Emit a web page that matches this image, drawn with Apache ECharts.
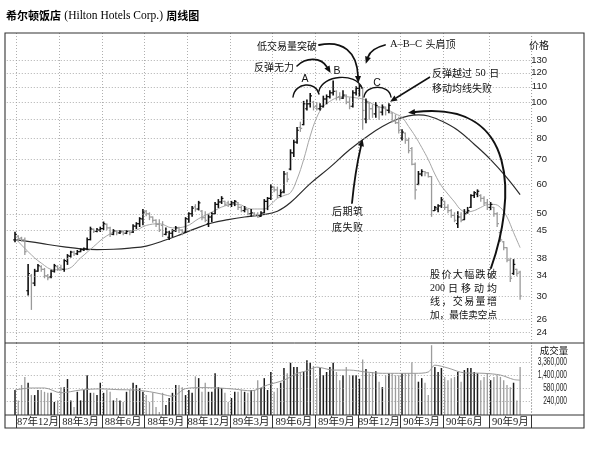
<!DOCTYPE html>
<html lang="zh">
<head>
<meta charset="utf-8">
<title>希尔顿饭店 周线图</title>
<script src="https://cdn.jsdelivr.net/npm/echarts@6.0.0/dist/echarts.min.js"></script>
<style>
html,body{margin:0;padding:0;background:#fff;}
#chart{width:603px;height:453px;}
</style>
</head>
<body>
<div id="chart"></div>
<script>
// ================= DATA =================
const firstWeek = [1987, 10, 27]; // week ending 1987-11-27 (UTC y, m0, d)
const quarterLabels = ['87年12月','88年3月','88年6月','88年9月','88年12月','89年3月','89年6月','89年9月','89年12月','90年3月','90年6月','90年9月'];
const quarterStartWeeks = [1,14,27,40,53,66,79,92,105,118,131,145];
const priceTicks = [130,120,110,100,90,80,70,60,50,45,38,34,30,26,24];
const volumeTicks = [3360000,1400000,580000,240000];
const volumeTickLabels = ['3,360,000','1,400,000','580,000','240,000'];

const opens = [
 42.5,43.5,43,42.5,31,34,32.5,35,36,35.4,
 34,33.8,35,36,35.8,35.4,37.2,38.4,39.4,39,
 39.5,40,40.2,42.6,45.4,44.8,45.2,45.6,46.8,45.8,
 44,45,44.4,44.7,44.3,44.8,44.6,46.3,47,48.4,
 50.8,50,49,48,46.8,46.5,44,43.2,44.3,45,
 45.8,45.2,44.6,48.4,50,52.2,51.5,50.8,48.8,47,
 49,50,53,53.8,54,53.5,53,53.5,53.6,52,
 51,51.3,50,50.2,49.8,49.2,50.3,54,55,59,
 58,56,57.3,64,66,73,78,85.5,87,96,
 99,100,97.5,96,97.5,102,103.5,106,107,103.5,
 102.5,104.5,100,97.5,106,109,109,90,99.5,96,
 93,97,94,97,95,93.5,89,88,80,82.5,
 79,75,68,60,64,65,64.5,63,51,51.5,
 52.5,54,52,51,49.5,47,49,48.2,50.3,52,
 56,56.5,56,55,53.5,52,52,50,44.5,42,
 40.5,37.5,34.5,35.4,34.8
];
const highs = [
 44.6,43.6,43.2,43,36.5,34.3,35.4,36.5,36.2,35.6,
 34.3,35.2,36.5,36.2,36.3,37.6,38.8,39.6,39.6,39.8,
 40.2,40.4,43,46,45.5,45.6,46,47.5,46.9,46,
 45.3,45,45,44.8,45,45,46.7,47.3,48.8,51.3,
 51,50.3,49,48.2,48.2,47.6,45.8,44.8,45.3,46.2,
 46,45.3,48.8,50.3,52.3,52.9,54,51,50.6,49.7,
 50.3,53.6,54.6,55.6,54,54,54,54.3,53.6,52.3,
 52.3,51.3,51.3,50.3,50.3,50.6,54.6,55.3,59.9,59,
 59,58,65,64.6,74.4,79,85.5,88.3,100.5,101.4,
 105.6,100.5,99.8,99,103.8,104.6,107.3,114,107.3,106,
 107.3,104.6,102.7,107.3,110,111.3,109.5,102,99.8,98.3,
 99.8,97,98.3,97,99,93.7,92.4,91,84.2,82.6,
 80,75.5,68.5,65,65.7,65,64.5,63,52.3,52.9,
 55.3,54,52.9,51.3,50.3,50.6,50.3,51.3,52,56.3,
 57.3,58,56.3,55.6,54.6,53.6,52,50.3,44.7,42.1,
 40.5,37.9,37.6,35.4,35
];
const lows = [
 42,42.2,42.2,38.8,30.2,27.6,32,35,35,33.6,
 33.2,33.6,34.8,35.2,35.2,35,36.5,38.2,38.6,38.8,
 39.5,39.8,40,42.5,44.5,44.7,44.8,45.3,45.3,43.4,
 43.9,43.9,44.2,43.9,44.2,43.9,44.5,45.6,46.2,46.7,
 49.4,48.2,47.4,46.2,44.8,43.4,43.9,42.6,43.4,44.8,
 44.5,43.9,44.5,47.4,49.2,50.8,51.2,48.2,47.6,46.2,
 47.6,50,52,53.3,52.6,52.3,52.3,52.6,51.3,50.6,
 50.6,49.7,49.2,49.2,48.9,49.2,50.3,51.3,54.6,57.3,
 55.3,55.6,57,61,65.7,71.4,77.5,83.4,86.9,95.3,
 97,95.3,95.3,95.3,97,99,102.7,104.6,101.4,101.4,
 102.3,99,96,97,104.6,104,84.5,88,90,91,
 91,90,92.4,92.4,93.7,88.4,87.6,82.6,79.1,77.5,
 73,67.8,54.8,59.9,63.3,63.3,62.8,49.2,51,50.6,
 52,51.3,50.3,48.9,47.6,45.9,47.6,48.2,50.2,52,
 55.3,55.6,54,52.9,51.3,51.3,49.2,46.2,42.1,40,
 37.1,32.8,34.3,34,29.4
];
const closes = [
 44,42.8,42.5,39.5,34.5,32.5,35,36.2,35.4,34,
 33.6,35,36.2,35.5,35.5,37.4,38.5,39.4,39,39.5,
 40,40.2,42.6,45.5,44.8,45.2,45.6,47,45.8,44,
 45,44.4,44.7,44.3,44.8,44.5,46.3,47,48.5,50.5,
 50,49,48,46.8,45.2,44,44.6,44.3,45,45.8,
 45.2,44.5,48.5,50,51.8,51.5,53.5,48.8,48,49,
 50,53,53.8,55,53,53,53.5,54,52,51,
 51.5,50,50.3,49.5,49,50.2,54,55,59,58,
 56,57,64,62,73,78,84,85,99,99,
 104,97,96,97.5,102,103.5,106,107,103,102.5,
 104.5,100,97.5,106,109,110.5,95,100,96,93,
 98,94,97,95,98,89,88,84,83,79,
 74,68,58,64,65,64.5,63,51,52,52.5,
 54.5,52,51,49.5,48,49,48,50,51,56,
 57,57.5,55,53.5,52,53,50,47,42.5,40.5,
 37.5,33.5,36.5,34.5,30
];
const volumes = [
 510000,250000,720000,1250000,840000,360000,360000,510000,510000,450000,
 420000,420000,225000,250000,620000,620000,1080000,250000,160000,450000,
 250000,510000,1400000,420000,420000,360000,840000,420000,510000,450000,
 250000,295000,250000,225000,450000,510000,840000,720000,585000,450000,
 360000,225000,420000,160000,113000,420000,182000,295000,420000,720000,
 720000,620000,360000,510000,420000,1300000,1150000,450000,840000,450000,
 450000,1600000,620000,585000,420000,225000,295000,450000,450000,510000,
 450000,420000,510000,510000,1000000,585000,1150000,510000,1750000,450000,
 585000,840000,2300000,1600000,3300000,2450000,2450000,1750000,1750000,3900000,
 3300000,2650000,1150000,2300000,1400000,1750000,2450000,3300000,1750000,1000000,
 1400000,2450000,1400000,1400000,1400000,1100000,4100000,2150000,1600000,1750000,
 1850000,900000,620000,1400000,1600000,1600000,1400000,1400000,1600000,1600000,
 1600000,3400000,1600000,900000,1150000,840000,360000,11000000,2450000,1750000,
 2300000,1250000,1000000,1150000,1250000,1750000,900000,2000000,2300000,2300000,
 1750000,1600000,1000000,1250000,1600000,1000000,1250000,1400000,1250000,1000000,
 720000,620000,840000,250000,2450000
];
// moving averages as [weekIndex, value] points
const ma10 = [
 [0,43],[4,39.5],[8,36.8],[12,35.3],[16,35.5],[20,38],[24,40.8],[28,43.6],[32,45],[36,45],
 [40,46.5],[44,47],[48,45.8],[52,46.2],[56,48.5],[60,50.5],[64,52.5],[68,53],[72,51.5],[76,51.5],
 [78,53],[80,55],[82,56],[84,57],[86,62],[88,70],[90,81],[92,91],[94,97.5],[96,100.5],
 [98,102.7],[100,103.5],[102,103.3],[104,102.7],[106,102],[108,100],[110,98],[112,96.5],[114,95],[116,93],
 [118,91],[120,86],[122,81],[124,75.5],[126,70],[128,64],[130,59.5],[132,56.5],[134,53.8],[136,51.2],
 [138,50.6],[140,51],[142,52],[144,52.9],[146,53],[148,52],[150,49],[152,44.5],[154,40.5]
];
const ma40 = [
 [0,42.6],[5,42],[10,41.3],[15,40.7],[20,40.2],[25,40],[30,40.1],[35,40.4],[40,40.9],[45,42.2],
 [50,43.8],[55,45.6],[60,47.2],[65,48.2],[70,49],[75,49.6],[80,50.8],[84,53.6],[90,60.3],[96,66.7],
 [102,74.4],[108,81.6],[112,86],[116,89.5],[120,91.8],[123,92.4],[126,91.8],[130,89],[135,84],[140,77],
 [145,70],[150,62.5],[154,56.3]
];
const volMa = [
 [0,512000],[5,585000],[9,585000],[14,420000],[20,510000],[26,550000],[32,520000],[36,512000],[41,455000],[45,380000],
 [48,330000],[52,560000],[57,600000],[62,585000],[67,540000],[72,480000],[77,720000],[82,1000000],[86,1600000],[89,1900000],
 [92,2450000],[97,2000000],[102,2000000],[107,1750000],[112,1600000],[117,1600000],[122,1600000],[126,1750000],[128,2800000],[132,2300000],
 [137,1650000],[143,1600000],[148,1420000],[152,1050000],[154,1000000]
];

// ================= LAYOUT =================
const N = closes.length;
[opens, highs, lows, volumes].forEach(function (a, k) {
  if (a.length !== N) throw new Error('array length mismatch ' + k + ': ' + a.length + ' vs ' + N);
});
const LEAD = 2, TRAIL = 3;
const PLOT_LEFT = 6.8, PLOT_W = 524.8;
const PRICE_TOP = 33, PRICE_H = 310, VOL_TOP = 343, VOL_H = 72;
const PRICE_MIN = 22.4, PRICE_MAX = 153.7, VOL_MIN = 91800, VOL_MAX = 12800000;
const CJK = "'Noto Sans CJK SC', sans-serif";
const SERIF = "'Liberation Serif', 'Noto Sans CJK SC', serif";
const GRID_LINE = { color: '#9a9a9a', type: [1, 2], width: 0.8 };

const nCat = LEAD + N + TRAIL;
const cats = [];
for (let k = 0; k < nCat; k++) {
  const w = k - LEAD;
  if (w < 0 || w >= N) { cats.push(''); continue; }
  const t = Date.UTC(firstWeek[0], firstWeek[1], firstWeek[2]) + w * 7 * 864e5;
  cats.push(new Date(t).toISOString().slice(0, 10));
}
const qSet = new Set(quarterStartWeeks.map(w => w + LEAD));
const labelMap = new Map(quarterStartWeeks.map((w, i) => [w + LEAD + 6, quarterLabels[i]]));

const ohlcData = closes.map((c, i) => [i + LEAD, opens[i], highs[i], lows[i], c]);
const volData = volumes.map((v, i) => [i + LEAD, v, closes[i] >= opens[i] ? 1 : 0]);
const shift = arr => arr.map(p => [p[0] + LEAD, p[1]]);

function renderOHLC(params, api) {
  const x = api.value(0);
  const o = api.value(1), h = api.value(2), l = api.value(3), c = api.value(4);
  const pH = api.coord([x, h]), pL = api.coord([x, l]);
  const pO = api.coord([x, o]), pC = api.coord([x, c]);
  const up = c >= o;
  const color = up ? '#111' : '#9a9a9a';
  const t = 1.8;
  return {
    type: 'group',
    children: [
      { type: 'line', shape: { x1: pH[0], y1: pH[1] - 0.5, x2: pL[0], y2: pL[1] + 0.5 }, style: { stroke: color, lineWidth: up ? 1.6 : 1.3 } },
      { type: 'line', shape: { x1: pO[0] - t, y1: pO[1], x2: pO[0], y2: pO[1] }, style: { stroke: color, lineWidth: 1.2 } },
      { type: 'line', shape: { x1: pC[0], y1: pC[1], x2: pC[0] + t, y2: pC[1] }, style: { stroke: color, lineWidth: 1.2 } }
    ]
  };
}
function renderVol(params, api) {
  const x = api.value(0), v = api.value(1), up = api.value(2);
  const top = api.coord([x, v]);
  const base = api.coord([x, VOL_MIN]);
  return {
    type: 'line',
    shape: { x1: top[0], y1: top[1], x2: base[0], y2: base[1] },
    style: { stroke: up ? '#1a1a1a' : '#9c9c9c', lineWidth: up ? 1.5 : 1.3 }
  };
}

const chart = echarts.init(document.getElementById('chart'), null, { renderer: 'canvas', width: 603, height: 453 });

const hiddenY = {
  axisLine: { show: false }, axisTick: { show: false }, axisLabel: { show: false }, splitLine: { show: false }
};

chart.setOption({
  animation: false,
  backgroundColor: '#fff',
  grid: [
    { left: PLOT_LEFT, top: PRICE_TOP, width: PLOT_W, height: PRICE_H },
    { left: PLOT_LEFT, top: VOL_TOP, width: PLOT_W, height: VOL_H }
  ],
  xAxis: [
    {
      type: 'category', gridIndex: 0, data: cats, boundaryGap: true,
      axisLine: { show: false }, axisTick: { show: false }, axisLabel: { show: false },
      splitLine: { show: true, interval: (i) => qSet.has(i), lineStyle: GRID_LINE }
    },
    {
      type: 'category', gridIndex: 1, data: cats, boundaryGap: true,
      axisLine: { show: false },
      axisTick: { show: true, length: 13, interval: (i) => qSet.has(i), lineStyle: { color: '#333', width: 1 } },
      axisLabel: {
        show: true, interval: (i) => labelMap.has(i), formatter: (v, i) => labelMap.get(i) || '',
        margin: 2, fontSize: 10.5, color: '#222', fontFamily: SERIF, hideOverlap: false
      },
      splitLine: { show: true, interval: (i) => qSet.has(i), lineStyle: GRID_LINE }
    }
  ],
  yAxis: [
    Object.assign({ type: 'log', logBase: 10, gridIndex: 0, min: PRICE_MIN, max: PRICE_MAX, position: 'right' }, hiddenY),
    Object.assign({ type: 'log', logBase: 10, gridIndex: 1, min: VOL_MIN, max: VOL_MAX, position: 'right' }, hiddenY)
  ],
  series: [
    {
      name: 'price-grid', type: 'line', xAxisIndex: 0, yAxisIndex: 0, z: 1, silent: true,
      data: [[LEAD, 50]], showSymbol: false, symbol: 'none', lineStyle: { opacity: 0 },
      markLine: {
        silent: true, symbol: ['none', 'none'], label: { show: false }, animation: false,
        lineStyle: GRID_LINE, emphasis: { disabled: true },
        data: priceTicks.map(v => ({ yAxis: v }))
      }
    },
    {
      name: 'volume-grid', type: 'line', xAxisIndex: 1, yAxisIndex: 1, z: 1, silent: true,
      data: [[LEAD, 500000]], showSymbol: false, symbol: 'none', lineStyle: { opacity: 0 },
      markLine: {
        silent: true, symbol: ['none', 'none'], label: { show: false }, animation: false,
        lineStyle: GRID_LINE, emphasis: { disabled: true },
        data: volumeTicks.map(v => ({ yAxis: v }))
      }
    },
    {
      name: '40周均线', type: 'line', xAxisIndex: 0, yAxisIndex: 0, z: 2, silent: true,
      data: shift(ma40), smooth: 0.4, showSymbol: false, symbol: 'none',
      lineStyle: { color: '#2b2b2b', width: 1.2 }
    },
    {
      name: '10周均线', type: 'line', xAxisIndex: 0, yAxisIndex: 0, z: 2, silent: true,
      data: shift(ma10), smooth: 0.4, showSymbol: false, symbol: 'none',
      lineStyle: { color: '#a6a6a6', width: 1 }
    },
    {
      name: '价格', type: 'custom', xAxisIndex: 0, yAxisIndex: 0, z: 3, silent: true,
      renderItem: renderOHLC, encode: { x: 0, y: [1, 2, 3, 4] }, data: ohlcData
    },
    {
      name: '成交量', type: 'custom', xAxisIndex: 1, yAxisIndex: 1, z: 3, silent: true,
      renderItem: renderVol, encode: { x: 0, y: 1 }, data: volData
    },
    {
      name: '成交量均线', type: 'line', xAxisIndex: 1, yAxisIndex: 1, z: 4, silent: true,
      data: shift(volMa), smooth: 0.3, showSymbol: false, symbol: 'none',
      lineStyle: { color: '#9a9a9a', width: 1 }
    }
  ]
});

// ================= GRAPHIC OVERLAY (frame, labels, annotations) =================
function txt(x, y, text, opt, extra) {
  const st = Object.assign({
    text: text, x: 0, y: 0, fill: '#111', fontSize: 10, fontFamily: CJK,
    align: 'left', verticalAlign: 'middle', textAlign: 'left', textVerticalAlign: 'middle'
  }, opt || {});
  if (st.align) st.textAlign = st.align;
  return Object.assign({ type: 'text', x: x, y: y, silent: true, z: 50, style: st }, extra || {});
}
function line(x1, y1, x2, y2, stroke, w, dash) {
  return { type: 'line', silent: true, z: 40, shape: { x1, y1, x2, y2 }, style: { stroke: stroke, lineWidth: w, lineDash: dash || null } };
}
// c = [x1,y1,cpx1,cpy1,cpx2,cpy2,x2,y2] (cubic) or [x1,y1,cpx1,cpy1,x2,y2] (quadratic)
function curve(c, w) {
  const shape = c.length === 8
    ? { x1: c[0], y1: c[1], cpx1: c[2], cpy1: c[3], cpx2: c[4], cpy2: c[5], x2: c[6], y2: c[7] }
    : { x1: c[0], y1: c[1], cpx1: c[2], cpy1: c[3], x2: c[4], y2: c[5] };
  return { type: 'bezierCurve', silent: true, z: 45, shape: shape, style: { fill: null, stroke: '#111', lineWidth: w, lineCap: 'round' } };
}
function head(endX, endY, fromX, fromY) {
  const dx = endX - fromX, dy = endY - fromY, len = Math.hypot(dx, dy) || 1;
  const ux = dx / len, uy = dy / len;
  const L = 7, H = 3;
  const tip = [endX + ux * L, endY + uy * L];
  const px = -uy * H, py = ux * H;
  return { type: 'polygon', silent: true, z: 46, shape: { points: [tip, [endX + px, endY + py], [endX - px, endY - py]] }, style: { fill: '#111' } };
}
function arrowCurve(c, w) {
  const n = c.length;
  return [curve(c, w), head(c[n - 2], c[n - 1], c[n - 4], c[n - 3])];
}
function justify(tokens, x0, x1, y, size) {
  const widths = tokens.map(t => (/^[0-9]+$/.test(t) ? t.length * size * 0.5 : size));
  const total = widths.reduce((a, b) => a + b, 0);
  const gap = tokens.length > 1 ? (x1 - x0 - total) / (tokens.length - 1) : 0;
  const out = [];
  let x = x0;
  tokens.forEach((t, i) => {
    out.push(txt(x, y, t, { fontSize: size, fontFamily: /^[0-9]+$/.test(t) ? SERIF : CJK }));
    x += widths[i] + gap;
  });
  return out;
}

const g = [];
// frame and panel separators
g.push({ type: 'rect', silent: true, z: 40, shape: { x: 5, y: 33, width: 579, height: 395 }, style: { fill: null, stroke: '#333', lineWidth: 1.1 } });
g.push(line(5, 343, 584, 343, '#333', 1));
g.push(line(5, 415, 584, 415, '#333', 1));
g.push(line(PLOT_LEFT + PLOT_W, 33, PLOT_LEFT + PLOT_W, 415, '#9a9a9a', 0.8, [1, 2]));

// title
g.push({
  type: 'text', x: 6, y: 16, silent: true, z: 50,
  style: {
    text: '{b|希尔顿饭店} {r|(Hilton Hotels Corp.)} {b|周线图}',
    x: 0, y: 0, verticalAlign: 'middle', textVerticalAlign: 'middle',
    rich: {
      b: { fontFamily: CJK, fontWeight: 'bold', fontSize: 11, fill: '#000' },
      r: { fontFamily: SERIF, fontSize: 11.5, fill: '#000' }
    }
  }
});

// price axis labels (positions from the library's log scale)
g.push(txt(539, 45, '价格', { align: 'center', fontSize: 10 }));
priceTicks.forEach(v => {
  const y = chart.convertToPixel({ yAxisIndex: 0 }, v);
  g.push(txt(547, y, String(v), { align: 'right', fontSize: 9.5, fontFamily: "'Liberation Sans', Arial, sans-serif", fill: '#222' }));
});
// volume axis labels (narrow lettering, as in the reference)
g.push(txt(554, 350, '成交量', { align: 'center', fontSize: 9.5 }));
volumeTicks.forEach((v, i) => {
  const y = chart.convertToPixel({ yAxisIndex: 1 }, v);
  g.push(txt(567, y, volumeTickLabels[i], { align: 'right', fontSize: 10, fontFamily: "'Liberation Sans', Arial, sans-serif", fill: '#222' }, { scaleX: 0.66 }));
});

// annotations
g.push(txt(257, 46, '低交易量突破'));
g.push(...arrowCurve([319, 45, 343, 40, 357, 52, 358, 76], 1.8));
g.push(txt(254, 67, '反弹无力'));
g.push(...arrowCurve([297, 66, 306, 57, 321, 57, 327, 67], 1.6));
g.push(txt(305, 79, 'A', { align: 'center', fontFamily: "'Liberation Sans', sans-serif", fontSize: 10.5 }));
g.push(txt(337, 71, 'B', { align: 'center', fontFamily: "'Liberation Sans', sans-serif", fontSize: 10.5 }));
g.push(txt(377, 83, 'C', { align: 'center', fontFamily: "'Liberation Sans', sans-serif", fontSize: 10.5 }));
g.push(curve([293, 97, 295, 82, 316, 81, 319, 94], 1.4));
g.push(curve([319, 91, 322, 75, 356, 72, 362, 88], 1.4));
g.push(curve([364, 97, 366, 84, 389, 84, 391, 97], 1.4));
g.push({
  type: 'text', x: 390, y: 44, silent: true, z: 50,
  style: {
    text: '{s|A–B–C} {c|头肩顶}', x: 0, y: 0, verticalAlign: 'middle', textVerticalAlign: 'middle',
    rich: { s: { fontFamily: SERIF, fontSize: 10.5, fill: '#111' }, c: { fontFamily: CJK, fontSize: 10, fill: '#111' } }
  }
});
g.push(...arrowCurve([385, 45, 377, 47, 370, 51, 368, 57], 1.8));
g.push({
  type: 'text', x: 432, y: 73, silent: true, z: 50,
  style: {
    text: '{c|反弹越过} {s|50} {c|日}', x: 0, y: 0, verticalAlign: 'middle', textVerticalAlign: 'middle',
    rich: { s: { fontFamily: SERIF, fontSize: 10.5, fill: '#111' }, c: { fontFamily: CJK, fontSize: 10, fill: '#111' } }
  }
});
g.push(txt(432, 88, '移动均线失败'));
g.push(line(430, 77, 396, 98, '#111', 1.5));
g.push(head(396, 98, 430, 77));
g.push(...justify(['后','期','筑'], 332, 363, 211, 10));
g.push(...justify(['底','失','败'], 332, 363, 227, 10));
g.push(...arrowCurve([352, 203, 355, 172, 361, 146], 1.8));
// bottom-right block (justified lines)
g.push(...justify(['股','价','大','幅','跌','破'], 430, 497, 274, 10));
g.push(...justify(['200','日','移','动','均'], 430, 497, 288, 10));
g.push(...justify(['线','，','交','易','量','增'], 430, 497, 301, 10));
g.push(...justify(['加','，','最','佳','卖','空','点'], 430, 497, 314, 9.6));
g.push(...arrowCurve([491, 268, 515, 200, 520, 100, 415, 112], 2));

chart.setOption({ graphic: { elements: g } });
</script>
</body>
</html>
